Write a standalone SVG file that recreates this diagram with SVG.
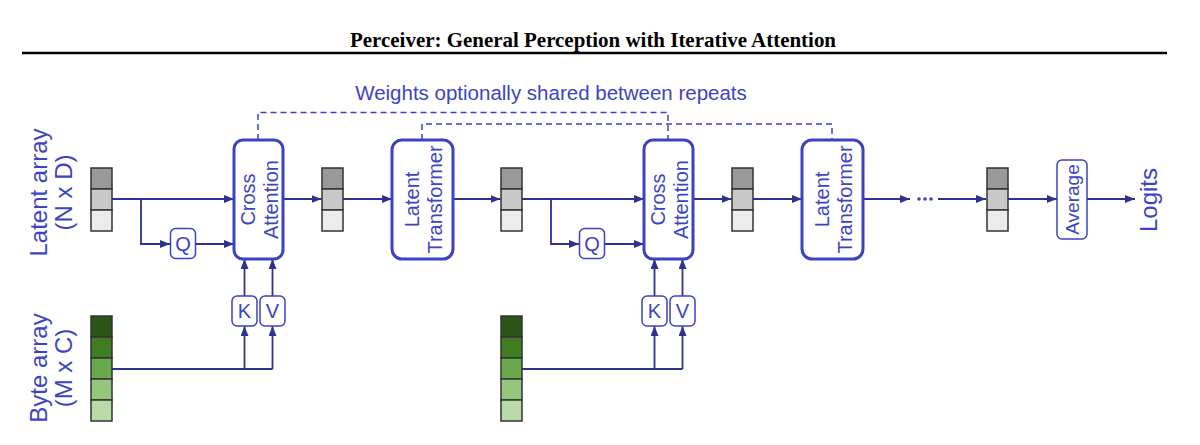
<svg xmlns="http://www.w3.org/2000/svg" width="1200" height="445" viewBox="0 0 1200 445">
<defs>
<marker id="arr" viewBox="0 0 10 8" refX="10" refY="4" markerWidth="10" markerHeight="8" markerUnits="userSpaceOnUse" orient="auto">
<path d="M0,0 L10,4 L0,8 z" fill="#2e3190"/>
</marker>
<style>
.title{font-family:"Liberation Serif","Times New Roman",serif;font-weight:bold;font-size:22px;fill:#000}
.lbl{font-family:"Liberation Sans",Arial,sans-serif;fill:#3c44c4}
.big{font-size:24px}
.mid{font-size:20px}
.bigbox{fill:#fff;stroke:#3b43c3;stroke-width:3}
.small{fill:#fff;stroke:#3b43c3;stroke-width:1.5}
.conn{fill:none;stroke:#2e3190;stroke-width:1.8}
.dash{fill:none;stroke:#3b43c3;stroke-width:1.5;stroke-dasharray:6 4}
.cell{stroke:#333;stroke-width:1.5}
</style>
</defs>
<rect width="1200" height="445" fill="#fff"/>
<text class="title" x="350" y="47" textLength="486" lengthAdjust="spacingAndGlyphs">Perceiver: General Perception with Iterative Attention</text>
<line x1="22" y1="53" x2="1167" y2="53" stroke="#000" stroke-width="2.5"/>

<text class="lbl" font-size="20.5" x="551" y="100" text-anchor="middle">Weights optionally shared between repeats</text>

<g id="labels">
<text class="lbl big" transform="translate(47,192.5) rotate(-90)" text-anchor="middle">Latent array</text>
<text class="lbl big" transform="translate(72,192.5) rotate(-90)" text-anchor="middle">(N x D)</text>
<text class="lbl big" transform="translate(47,368) rotate(-90)" text-anchor="middle">Byte array</text>
<text class="lbl big" transform="translate(72,368) rotate(-90)" text-anchor="middle">(M x C)</text>
<text class="lbl big" transform="translate(1157,200) rotate(-90)" text-anchor="middle">Logits</text>
</g>

<g id="connectors">
<path class="dash" d="M258,140 V112.5 H668 V140"/>
<path class="dash" d="M422,140 V124 H832 V140"/>
<line class="conn" x1="112" y1="199" x2="234" y2="199" marker-end="url(#arr)"/>
<path class="conn" d="M141,199 V244 H170" marker-end="url(#arr)"/>
<line class="conn" x1="195" y1="244" x2="234" y2="244" marker-end="url(#arr)"/>
<line class="conn" x1="283" y1="199" x2="321.5" y2="199" marker-end="url(#arr)"/>
<line class="conn" x1="343" y1="199" x2="392" y2="199" marker-end="url(#arr)"/>
<line class="conn" x1="453" y1="199" x2="500.5" y2="199" marker-end="url(#arr)"/>
<line class="conn" x1="522" y1="199" x2="644" y2="199" marker-end="url(#arr)"/>
<path class="conn" d="M551,199 V244 H579" marker-end="url(#arr)"/>
<line class="conn" x1="604" y1="244" x2="644" y2="244" marker-end="url(#arr)"/>
<line class="conn" x1="693" y1="199" x2="731.5" y2="199" marker-end="url(#arr)"/>
<line class="conn" x1="753" y1="199" x2="802" y2="199" marker-end="url(#arr)"/>
<line class="conn" x1="863" y1="199" x2="910" y2="199" marker-end="url(#arr)"/>
<line class="conn" x1="938" y1="199" x2="986" y2="199" marker-end="url(#arr)"/>
<line class="conn" x1="1008" y1="199" x2="1057" y2="199" marker-end="url(#arr)"/>
<line class="conn" x1="1087" y1="199" x2="1135" y2="199" marker-end="url(#arr)"/>
<path class="conn" d="M112,369 H272.5"/>
<line class="conn" x1="244.5" y1="369" x2="244.5" y2="326" marker-end="url(#arr)"/>
<line class="conn" x1="272.5" y1="369" x2="272.5" y2="326" marker-end="url(#arr)"/>
<line class="conn" x1="244.5" y1="296" x2="244.5" y2="259" marker-end="url(#arr)"/>
<line class="conn" x1="272.5" y1="296" x2="272.5" y2="259" marker-end="url(#arr)"/>
<path class="conn" d="M522,369 H682.5"/>
<line class="conn" x1="654.5" y1="369" x2="654.5" y2="326" marker-end="url(#arr)"/>
<line class="conn" x1="682.5" y1="369" x2="682.5" y2="326" marker-end="url(#arr)"/>
<line class="conn" x1="654.5" y1="296" x2="654.5" y2="259" marker-end="url(#arr)"/>
<line class="conn" x1="682.5" y1="296" x2="682.5" y2="259" marker-end="url(#arr)"/>
<g fill="#3c44c4"><circle cx="919" cy="199" r="1.8"/><circle cx="925" cy="199" r="1.8"/><circle cx="931" cy="199" r="1.8"/></g>
</g>

<g id="latent1"><rect class="cell" x="91" y="168" width="21" height="21" fill="#999"/><rect class="cell" x="91" y="189" width="21" height="21" fill="#c8c8c8"/><rect class="cell" x="91" y="210" width="21" height="21" fill="#ececec"/></g>
<g id="latent2"><rect class="cell" x="322" y="168" width="21" height="21" fill="#999"/><rect class="cell" x="322" y="189" width="21" height="21" fill="#c8c8c8"/><rect class="cell" x="322" y="210" width="21" height="21" fill="#ececec"/></g>
<g id="latent3"><rect class="cell" x="501" y="168" width="21" height="21" fill="#999"/><rect class="cell" x="501" y="189" width="21" height="21" fill="#c8c8c8"/><rect class="cell" x="501" y="210" width="21" height="21" fill="#ececec"/></g>
<g id="latent4"><rect class="cell" x="732" y="168" width="21" height="21" fill="#999"/><rect class="cell" x="732" y="189" width="21" height="21" fill="#c8c8c8"/><rect class="cell" x="732" y="210" width="21" height="21" fill="#ececec"/></g>
<g id="latent5"><rect class="cell" x="987" y="168" width="21" height="21" fill="#999"/><rect class="cell" x="987" y="189" width="21" height="21" fill="#c8c8c8"/><rect class="cell" x="987" y="210" width="21" height="21" fill="#ececec"/></g>

<g id="byte1"><rect class="cell" x="91" y="316" width="21" height="21" fill="#2d5418"/><rect class="cell" x="91" y="337" width="21" height="21" fill="#3f7c22"/><rect class="cell" x="91" y="358" width="21" height="21" fill="#6aa84c"/><rect class="cell" x="91" y="379" width="21" height="21" fill="#94c67c"/><rect class="cell" x="91" y="400" width="21" height="21" fill="#badba8"/></g>
<g id="byte2"><rect class="cell" x="501" y="316" width="21" height="21" fill="#2d5418"/><rect class="cell" x="501" y="337" width="21" height="21" fill="#3f7c22"/><rect class="cell" x="501" y="358" width="21" height="21" fill="#6aa84c"/><rect class="cell" x="501" y="379" width="21" height="21" fill="#94c67c"/><rect class="cell" x="501" y="400" width="21" height="21" fill="#badba8"/></g>

<g id="cross1"><rect class="bigbox" x="234" y="140" width="49" height="119" rx="9"/>
<text class="lbl mid" transform="translate(255,199.5) rotate(-90)" text-anchor="middle">Cross</text>
<text class="lbl mid" transform="translate(278,199.5) rotate(-90)" text-anchor="middle">Attention</text></g>
<g id="cross2"><rect class="bigbox" x="644" y="140" width="49" height="119" rx="9"/>
<text class="lbl mid" transform="translate(665,199.5) rotate(-90)" text-anchor="middle">Cross</text>
<text class="lbl mid" transform="translate(688,199.5) rotate(-90)" text-anchor="middle">Attention</text></g>
<g id="transformer1"><rect class="bigbox" x="392" y="140" width="61" height="119" rx="10"/>
<text class="lbl mid" transform="translate(419,199.5) rotate(-90)" text-anchor="middle">Latent</text>
<text class="lbl mid" transform="translate(442,199.5) rotate(-90)" text-anchor="middle">Transformer</text></g>
<g id="transformer2"><rect class="bigbox" x="802" y="140" width="61" height="119" rx="10"/>
<text class="lbl mid" transform="translate(829,199.5) rotate(-90)" text-anchor="middle">Latent</text>
<text class="lbl mid" transform="translate(852,199.5) rotate(-90)" text-anchor="middle">Transformer</text></g>

<g id="q1"><rect class="small" x="170.5" y="228.5" width="25" height="30" rx="5"/><text class="lbl mid" x="183" y="251" text-anchor="middle">Q</text></g>
<g id="q2"><rect class="small" x="579.5" y="228.5" width="25" height="30" rx="5"/><text class="lbl mid" x="592" y="251" text-anchor="middle">Q</text></g>
<g id="k1"><rect class="small" x="232" y="296" width="25" height="30" rx="5"/><text class="lbl mid" x="244.5" y="318" text-anchor="middle">K</text></g>
<g id="v1"><rect class="small" x="260" y="296" width="25" height="30" rx="5"/><text class="lbl mid" x="272.5" y="318" text-anchor="middle">V</text></g>
<g id="k2"><rect class="small" x="642" y="296" width="25" height="30" rx="5"/><text class="lbl mid" x="654.5" y="318" text-anchor="middle">K</text></g>
<g id="v2"><rect class="small" x="670" y="296" width="25" height="30" rx="5"/><text class="lbl mid" x="682.5" y="318" text-anchor="middle">V</text></g>
<g id="average"><rect class="small" x="1057" y="160" width="30" height="79" rx="5"/><text class="lbl" font-size="19" transform="translate(1079,199.5) rotate(-90)" text-anchor="middle">Average</text></g>
</svg>
